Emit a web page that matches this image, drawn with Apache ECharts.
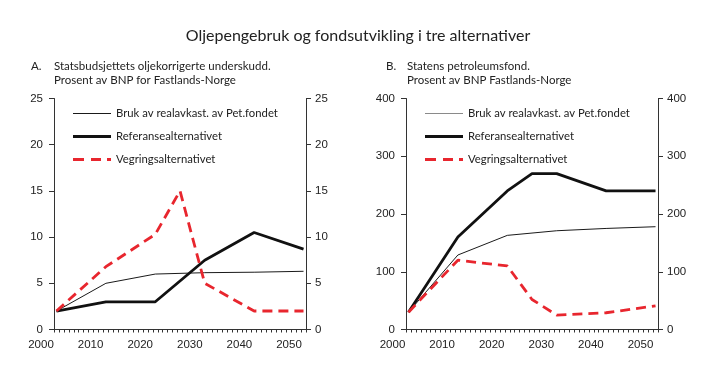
<!DOCTYPE html>
<html><head><meta charset="utf-8">
<script src="https://cdn.jsdelivr.net/npm/echarts@6/dist/echarts.min.js"></script>
<style>html,body{margin:0;padding:0;background:#fff}#c{width:719px;height:383px}</style>
</head><body><div id="c"></div>
<script>
// ---- text ----
const mainTitle = 'Oljepengebruk og fondsutvikling i tre alternativer';
const panelA = ['A.', 'Statsbudsjettets oljekorrigerte underskudd.', 'Prosent av BNP for Fastlands-Norge'];
const panelB = ['B.', 'Statens petroleumsfond.', 'Prosent av BNP Fastlands-Norge'];
const seriesNames = ['Bruk av realavkast. av Pet.fondet', 'Referansealternativet', 'Vegringsalternativet'];

// ---- tick labels ----
const xTickYears = [2000, 2010, 2020, 2030, 2040, 2050];
const yTicksA = [0, 5, 10, 15, 20, 25];
const yTicksB = [0, 100, 200, 300, 400];

// ---- data: panel A (percent of mainland GDP) ----
const aBrukYears = [2003, 2013, 2023, 2033, 2043, 2053];
const aBrukVals  = [2, 5, 6, 6.15, 6.2, 6.3];
const aRefYears  = [2003, 2013, 2023, 2033, 2043, 2053];
const aRefVals   = [2, 3, 3, 7.5, 10.5, 8.7];
const aVegYears  = [2003, 2013, 2023, 2028, 2033, 2043, 2053];
const aVegVals   = [2, 6.8, 10.3, 15, 5, 2, 2];

// ---- data: panel B (petroleum fund, percent of mainland GDP) ----
const bBrukYears = [2003, 2013, 2023, 2033, 2043, 2053];
const bBrukVals  = [30, 129, 163, 171, 175, 178];
const bRefYears  = [2003, 2013, 2023, 2028, 2033, 2043, 2053];
const bRefVals   = [30, 160, 240, 270, 270, 240, 240];
const bVegYears  = [2003, 2013, 2023, 2028, 2033, 2043, 2053];
const bVegVals   = [30, 120, 110, 52, 25, 29, 41];

const pairs = (xs, ys) => xs.map((x, i) => [x, ys[i]]);

const TXT = 'Lato, "Noto Sans", sans-serif';
const NUM = '"Liberation Sans", Arial, sans-serif';
const AX = '#333';
const RED = '#e8262e';

const styles = [
  { color: '#1a1a1a', width: 1, type: 'solid' },
  { color: '#111111', width: 2.8, type: 'solid' },
  { color: RED, width: 2.8, type: [10, 6] }
];
const legendIcons = ['rect', 'rect', 'path://M0,0H11V1H0Z M18,0H28V1H18Z M34,0H38V1H34Z'];

function mkSeries(name, idx, xs, ys, xi, yi) {
  const s = styles[idx];
  return {
    name, type: 'line', xAxisIndex: xi, yAxisIndex: yi,
    data: pairs(xs, ys), symbol: 'none', smooth: false,
    lineStyle: { color: s.color, width: s.width, type: s.type },
    itemStyle: { color: s.color },
    animation: false, z: 3 + idx
  };
}

const gTop = 98.5, gH = 231;
const grids = [
  { left: 54, top: gTop, width: 252, height: gH },
  { left: 406, top: gTop, width: 252, height: gH },
  { left: 41, top: gTop, width: 248, height: gH },
  { left: 392.5, top: gTop, width: 248, height: gH }
];

function dataX(gi) {
  return {
    type: 'value', gridIndex: gi, min: 2002.5, max: 2053.5, interval: 1,
    axisLine: { show: true, lineStyle: { color: AX, width: 1 } },
    axisTick: { show: true, length: 3, inside: false, lineStyle: { color: AX } },
    axisLabel: { show: false }, splitLine: { show: false }
  };
}
function labelX(gi) {
  return {
    type: 'value', gridIndex: gi, min: xTickYears[0], max: xTickYears[xTickYears.length - 1],
    interval: xTickYears[1] - xTickYears[0],
    axisLine: { show: false }, axisTick: { show: false }, splitLine: { show: false },
    axisLabel: { show: true, margin: 9, fontFamily: NUM, fontSize: 11.5, color: '#222',
      formatter: v => String(v) }
  };
}
function yAx(gi, ticks, pos, margin) {
  return {
    type: 'value', gridIndex: gi, position: pos,
    min: ticks[0], max: ticks[ticks.length - 1], interval: ticks[1] - ticks[0],
    axisLine: { show: true, onZero: false, lineStyle: { color: AX, width: 1 } },
    axisTick: { show: true, length: 5, inside: false, lineStyle: { color: AX } },
    axisLabel: { show: true, margin, fontFamily: NUM, fontSize: 11.5, color: '#222',
      formatter: v => String(v) },
    splitLine: { show: false }
  };
}
function hiddenY(gi) {
  return { type: 'value', gridIndex: gi, min: 0, max: 1, show: false };
}

// one legend component per entry, so each sample line has its own thickness
const legendRowCenters = [115, 138, 161];
function legendsAt(left, thinColor) {
  return seriesNames.map((n, i) => {
    const hgt = i === 0 ? 1 : 3;
    return {
      orient: 'vertical', left, top: legendRowCenters[i] - 7, padding: 0,
      itemWidth: 38, itemHeight: hgt, symbolKeepAspect: false,
      data: [{ name: n, icon: legendIcons[i], itemStyle: { color: i === 0 ? thinColor : styles[i].color } }],
      selectedMode: false,
      textStyle: { fontFamily: TXT, fontSize: 11.3, color: '#222' }
    };
  });
}

function textEl(x, y, text, size, align) {
  return { type: 'text', x, y, style: { text, fontFamily: TXT, fontSize: size, fill: '#222', align: align || 'left', verticalAlign: 'middle' } };
}

const chart = echarts.init(document.getElementById('c'), null, { renderer: 'canvas' });
chart.setOption({
  animation: false,
  backgroundColor: '#fff',
  grid: grids,
  xAxis: [dataX(0), dataX(1), labelX(2), labelX(3)],
  yAxis: [
    yAx(0, yTicksA, 'left', 11), yAx(0, yTicksA, 'right', 9),
    yAx(1, yTicksB, 'left', 11), yAx(1, yTicksB, 'right', 9),
    hiddenY(2), hiddenY(3)
  ],
  legend: legendsAt(73, '#1a1a1a').concat(legendsAt(425, '#8a8a8a')),
  series: [
    mkSeries(seriesNames[0], 0, aBrukYears, aBrukVals, 0, 0),
    mkSeries(seriesNames[1], 1, aRefYears, aRefVals, 0, 0),
    mkSeries(seriesNames[2], 2, aVegYears, aVegVals, 0, 0),
    mkSeries(seriesNames[0], 0, bBrukYears, bBrukVals, 1, 2),
    mkSeries(seriesNames[1], 1, bRefYears, bRefVals, 1, 2),
    mkSeries(seriesNames[2], 2, bVegYears, bVegVals, 1, 2)
  ],
  graphic: [
    textEl(358, 36, mainTitle, 16, 'center'),
    textEl(31, 66, panelA[0], 11.5), textEl(54, 66, panelA[1], 11.5), textEl(54, 80, panelA[2], 11.5),
    textEl(386, 66, panelB[0], 11.5), textEl(407, 66, panelB[1], 11.5), textEl(407, 80, panelB[2], 11.5)
  ]
});
</script></body></html>
